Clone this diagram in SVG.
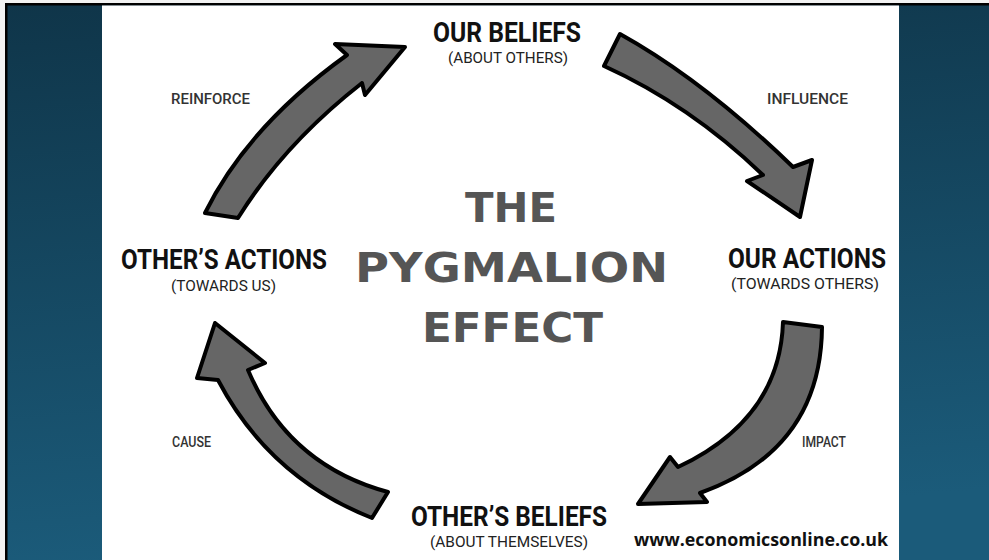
<svg xmlns="http://www.w3.org/2000/svg" width="989" height="560" viewBox="0 0 989 560">
<defs>
<linearGradient id="bg" x1="0" y1="0" x2="0.15" y2="1">
<stop offset="0" stop-color="#0f3549"/>
<stop offset="1" stop-color="#1b5b7a"/>
</linearGradient>
<style>
.arrow{fill:#666666;stroke:#000;stroke-width:4;stroke-linejoin:round}
.head{font-family:Roboto,"Liberation Sans",sans-serif;font-weight:700;fill:#111;text-anchor:middle;font-size:27px}
.sub{font-family:Roboto,"Liberation Sans",sans-serif;font-weight:400;fill:#222;text-anchor:middle;font-size:14.5px}
.lbl{font-family:Roboto,"Liberation Sans",sans-serif;font-weight:500;fill:#333;font-size:15px}
.title{font-family:"DejaVu Sans",sans-serif;font-weight:700;fill:#555;text-anchor:middle;font-size:40px}
.url{font-family:"Open Sans","DejaVu Sans",sans-serif;font-weight:700;fill:#111;font-size:17px}
</style>
</defs>
<rect x="0" y="0" width="989" height="560" fill="#f2f2f2"/>
<rect x="5" y="3" width="984" height="557" fill="url(#bg)"/>
<rect x="5" y="3" width="984" height="2.5" fill="#000"/>
<rect x="5" y="3" width="2.5" height="557" fill="#000"/>
<rect x="102" y="5.5" width="797" height="555" fill="#fff"/>

<g id="connectors">
<path id="arrow-reinforce" class="arrow" d="M205,213 Q248,126 347,55 L335,44 L405,47 L365,95 L362,83 Q284,144 238,218 Z"/>
<path id="arrow-influence" class="arrow" d="M620,34 Q703,80 793,167 L812,160 L800,217 L747,181 L763,175 Q690,105 604,66 Z"/>
<path id="arrow-impact" class="arrow" d="M822,327 Q821,450 700,493 L707,502 L638,504 L670,457 L678,467 Q780,419 783,322 Z"/>
<path id="arrow-cause" class="arrow" d="M372,518 Q269,477 218,380 L197,378 L215,323 L265,363 L248,370 Q288,465 388,492 Z"/>
</g>

<g id="node-our-beliefs">
<text class="head" x="507" y="41.5" textLength="148" lengthAdjust="spacingAndGlyphs">OUR BELIEFS</text>
<text class="sub" x="508" y="63" textLength="120" lengthAdjust="spacingAndGlyphs">(ABOUT OTHERS)</text>
</g>
<g id="node-our-actions">
<text class="head" x="807" y="268" textLength="158" lengthAdjust="spacingAndGlyphs">OUR ACTIONS</text>
<text class="sub" x="805" y="289" textLength="148" lengthAdjust="spacingAndGlyphs">(TOWARDS OTHERS)</text>
</g>
<g id="node-others-beliefs">
<text class="head" x="509" y="526" textLength="196" lengthAdjust="spacingAndGlyphs">OTHER’S BELIEFS</text>
<text class="sub" x="509" y="547" textLength="158" lengthAdjust="spacingAndGlyphs">(ABOUT THEMSELVES)</text>
</g>
<g id="node-others-actions">
<text class="head" x="224" y="269" textLength="206" lengthAdjust="spacingAndGlyphs">OTHER’S ACTIONS</text>
<text class="sub" x="223.5" y="291" textLength="105" lengthAdjust="spacingAndGlyphs">(TOWARDS US)</text>
</g>

<g id="labels">
<text class="lbl" x="171" y="104" textLength="79" lengthAdjust="spacingAndGlyphs">REINFORCE</text>
<text class="lbl" x="767" y="104" textLength="81" lengthAdjust="spacingAndGlyphs">INFLUENCE</text>
<text class="lbl" x="802" y="447" textLength="44" lengthAdjust="spacingAndGlyphs">IMPACT</text>
<text class="lbl" x="172" y="447" textLength="39" lengthAdjust="spacingAndGlyphs">CAUSE</text>
</g>

<g id="title">
<text class="title" x="511" y="222" textLength="92" lengthAdjust="spacingAndGlyphs">THE</text>
<text class="title" x="511.5" y="282" textLength="313" lengthAdjust="spacingAndGlyphs">PYGMALION</text>
<text class="title" x="512.5" y="342" textLength="181" lengthAdjust="spacingAndGlyphs">EFFECT</text>
</g>

<text class="url" x="634" y="546" textLength="254" lengthAdjust="spacingAndGlyphs">www.economicsonline.co.uk</text>
</svg>
